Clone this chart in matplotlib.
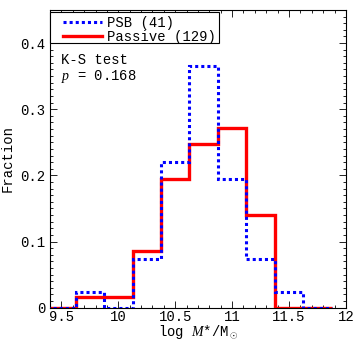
"""
Histogramme de masse stellaire : PSB vs Passive (fractions par bin).
"""
import matplotlib
matplotlib.use("Agg")
import matplotlib.pyplot as plt
from matplotlib.patches import Rectangle
from matplotlib.ticker import MultipleLocator, FuncFormatter
import numpy as np

# Bords des bins en log M*/Msun
bords = [9.375, 9.625, 9.875, 10.125, 10.375, 10.625,
         10.875, 11.125, 11.375, 11.625, 11.875]

# Comptes par bin
comptes_psb = [0, 1, 0, 3, 9, 15, 8, 3, 1, 0]
comptes_passive = [0, 2, 2, 11, 25, 32, 35, 18, 0, 0]
n_psb = 41
n_passive = 129

ks_p = 0.168

plt.rcParams['font.family'] = ['Liberation Mono', 'DejaVu Sans Mono']
plt.rcParams['font.size'] = 10
plt.rcParams['mathtext.fontset'] = 'custom'
plt.rcParams['mathtext.it'] = 'Liberation Serif:italic'
plt.rcParams['mathtext.rm'] = 'Liberation Mono'

fig = plt.figure(figsize=(3.57, 3.43), dpi=100)
ax = fig.add_axes([0.140, 0.103, 0.829, 0.868])

frac_psb = np.array(comptes_psb) / n_psb
frac_passive = np.array(comptes_passive) / n_passive

ax.stairs(frac_passive, bords, color='#ff0000', lw=2.4,
          label=f'Passive ({n_passive})', zorder=2)
ax.stairs(frac_psb, bords, color='#0000ff', lw=2.2, ls=(0, (1, 1)),
          label=f'PSB ({n_psb})', zorder=3)

ax.set_xlim(9.4, 12)
ax.set_ylim(0, 0.45)

ax.xaxis.set_major_locator(MultipleLocator(0.5))
ax.xaxis.set_minor_locator(MultipleLocator(0.1))
ax.yaxis.set_major_locator(MultipleLocator(0.1))
ax.yaxis.set_minor_locator(MultipleLocator(0.01))
ax.xaxis.set_major_formatter(FuncFormatter(lambda v, p: f'{v:g}'))
ax.yaxis.set_major_formatter(FuncFormatter(lambda v, p: f'{v:g}'))
ax.tick_params(which='both', direction='in', top=True, right=True, width=0.6)
ax.tick_params(which='major', length=5)
ax.tick_params(which='minor', length=2.5)
ax.tick_params(axis='x', pad=2)
for s in ax.spines.values():
    s.set_linewidth(0.8)

ax.set_xlabel(r'log $M$*/M$_\odot$', labelpad=-1)
ax.set_ylabel('Fraction', labelpad=4)

# cadre de la légende (plus large à gauche que le pad par défaut)
ax.add_patch(Rectangle((0.0, 0.889), 0.571, 0.104, transform=ax.transAxes,
                       facecolor='white', edgecolor='black', lw=0.8,
                       zorder=4, clip_on=False))
handles, labels = ax.get_legend_handles_labels()
leg = ax.legend(handles[::-1], labels[::-1], loc='upper left',
                bbox_to_anchor=(0.034, 0.99), borderaxespad=0.0,
                frameon=False, handlelength=2.8, handletextpad=0.35,
                labelspacing=0.0, borderpad=0.2)
leg.set_zorder(5)

ax.text(0.037, 0.855, 'K-S test\n$p$ = ' + f'{ks_p:.3f}',
        transform=ax.transAxes, va='top', ha='left', linespacing=1.1)

fig.savefig('out.png', dpi=100)
